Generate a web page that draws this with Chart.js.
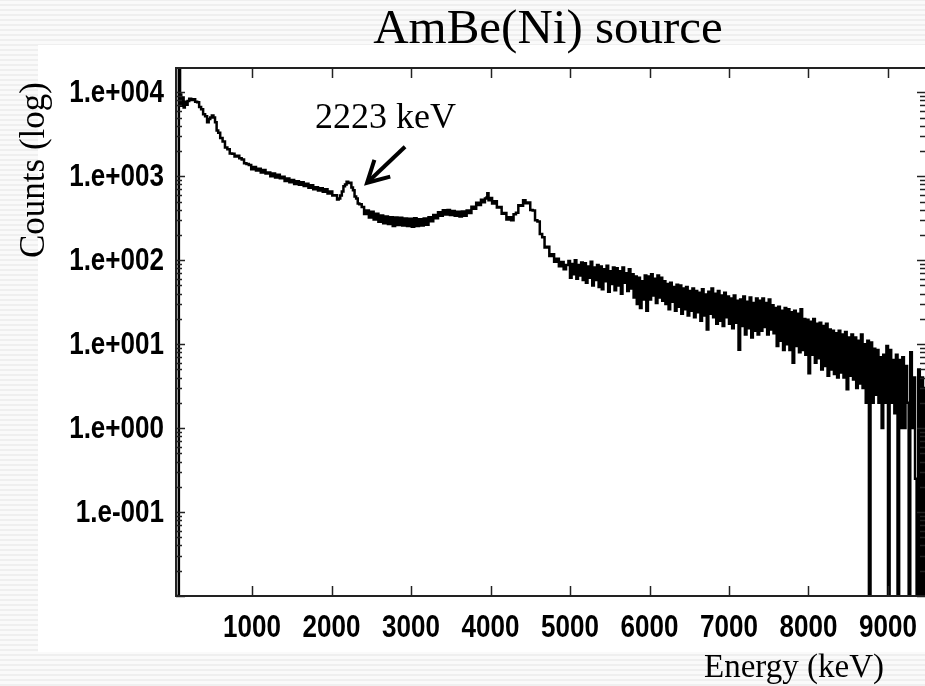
<!DOCTYPE html>
<html>
<head>
<meta charset="utf-8">
<script src="https://cdn.jsdelivr.net/npm/chart.js@4.4.1/dist/chart.umd.min.js"></script>
<style>
    html, body {
        margin: 0;
        padding: 0;
        width: 925px;
        height: 686px;
        overflow: hidden;
        background: repeating-linear-gradient(0deg, #efefef 0px, #efefef 2px, #fafafa 2px, #fafafa 5px);
    }
    #panel { position: absolute; left: 38px; top: 45px; width: 900px; height: 607px; background: #fff; }
    #wrap { position: absolute; left: 0; top: 0; width: 960px; height: 686px; }
</style>
</head>
<body>
<div id="panel"></div>
<div id="wrap"><canvas id="myChart" width="960" height="686"></canvas></div>
<script>
// spectrum, low energy part (keV / counts)
const lowEnergy = [44, 70, 80, 95, 110, 125, 140, 155, 170, 190, 210, 235, 260, 285, 310, 335, 360, 385, 410, 435,
    455, 475, 495, 515, 535, 555, 575, 600, 630, 660, 690, 720, 750, 780, 810, 840, 870, 900, 930, 960,
    990, 1020, 1050, 1080, 1110, 1140, 1170, 1200, 1230, 1260, 1290, 1320, 1350, 1380, 1410, 1440, 1470, 1500, 1530, 1560,
    1590, 1620, 1650, 1680, 1710, 1740, 1770, 1800, 1830, 1860, 1890, 1920, 1950, 1980, 2010, 2040, 2070, 2090, 2110, 2130,
    2150, 2170, 2190, 2210, 2230, 2250, 2270, 2290, 2310, 2330, 2350, 2380, 2410, 2440, 2470, 2500, 2530, 2560, 2590, 2620,
    2650, 2680, 2710, 2740, 2770, 2800, 2830, 2860, 2890, 2920, 2950, 2980, 3010, 3040, 3070, 3100, 3130, 3160, 3190, 3220,
    3250, 3280, 3310, 3340, 3370, 3400, 3430, 3460, 3490, 3520, 3550, 3580, 3610, 3640, 3670, 3700, 3730, 3760, 3790, 3820,
    3850, 3880, 3910, 3930, 3950, 3960, 3975, 3990, 4020, 4050, 4080, 4110, 4140, 4170, 4200, 4230, 4260, 4290, 4320, 4350,
    4380, 4410, 4440, 4470, 4500, 4530, 4560, 4590, 4620, 4650, 4680, 4710, 4740, 4770, 4800, 4830, 4860, 4890, 4920, 4950];
const lowCounts = [0, 0, 30000, 9400, 6900, 8700, 6600, 7700, 7100, 7900, 8400, 8100, 8300, 7700, 7600, 6700, 6300, 5500, 5200, 4400,
    4800, 5000, 5300, 5000, 4400, 3500, 3300, 2850, 2600, 2200, 2100, 1870, 1850, 1720, 1760, 1640, 1580, 1430, 1400, 1360,
    1210, 1290, 1170, 1230, 1110, 1190, 1080, 1110, 1000, 1080, 970, 1040, 950, 990, 880, 940, 850, 905, 810, 870,
    795, 850, 765, 815, 730, 780, 700, 740, 675, 720, 655, 700, 625, 660, 590, 595, 530, 545, 590, 660,
    760, 800, 860, 830, 835, 735, 680, 575, 545, 475, 465, 430, 355, 392, 322, 378, 305, 358, 288, 342,
    275, 332, 270, 326, 255, 322, 262, 320, 260, 314, 255, 312, 250, 316, 255, 308, 260, 314, 265, 325,
    292, 345, 316, 372, 338, 395, 350, 398, 346, 385, 338, 378, 332, 380, 338, 392, 365, 435, 410, 485,
    455, 525, 490, 545, 560, 630, 520, 550, 475, 505, 425, 432, 358, 366, 306, 326, 300, 352, 368, 452,
    445, 520, 478, 488, 398, 390, 300, 290, 205, 188, 142, 145, 112, 118, 96, 104, 85, 95, 78, 88];

// spectrum, noisy high energy tail
const tailEnergy = [4980, 5000, 5020, 5040, 5060, 5080, 5100, 5120, 5140, 5160, 5180, 5200, 5220, 5240, 5260, 5280, 5300, 5320, 5340, 5360,
    5380, 5400, 5420, 5440, 5460, 5480, 5500, 5520, 5540, 5560, 5580, 5600, 5620, 5640, 5660, 5680, 5700, 5720, 5740, 5760,
    5780, 5800, 5820, 5840, 5860, 5880, 5900, 5920, 5940, 5960, 5980, 6000, 6020, 6040, 6060, 6080, 6100, 6120, 6140, 6160,
    6180, 6200, 6220, 6240, 6260, 6280, 6300, 6320, 6340, 6360, 6380, 6400, 6420, 6440, 6460, 6480, 6500, 6520, 6540, 6560,
    6580, 6600, 6620, 6640, 6660, 6680, 6700, 6720, 6740, 6760, 6780, 6800, 6820, 6840, 6860, 6880, 6900, 6920, 6940, 6960,
    6980, 7000, 7020, 7040, 7060, 7080, 7100, 7120, 7140, 7160, 7180, 7200, 7220, 7240, 7260, 7280, 7300, 7320, 7340, 7360,
    7380, 7400, 7420, 7440, 7460, 7480, 7500, 7520, 7540, 7560, 7580, 7600, 7620, 7640, 7660, 7680, 7700, 7720, 7740, 7760,
    7780, 7800, 7820, 7840, 7860, 7880, 7900, 7920, 7940, 7960, 7980, 8000, 8020, 8040, 8060, 8080, 8100, 8120, 8140, 8160,
    8180, 8200, 8220, 8240, 8260, 8280, 8300, 8320, 8340, 8360, 8380, 8400, 8420, 8440, 8460, 8480, 8500, 8520, 8540, 8560,
    8580, 8600, 8620, 8640, 8660, 8680, 8700, 8720, 8740, 8760, 8780, 8800, 8820, 8840, 8860, 8880, 8900, 8920, 8940, 8960,
    8980, 9000, 9020, 9040, 9060, 9080, 9100, 9120, 9140, 9160, 9180, 9200, 9220, 9240, 9260, 9280, 9300, 9320, 9340, 9360,
    9380, 9400, 9420, 9440, 9460, 9480];
const tailCounts = [98, 62, 90, 68, 100, 60, 88, 66, 94, 58,
    92, 54, 84, 62, 96, 50, 82, 58, 88, 48,
    84, 45, 78, 56, 86, 42, 74, 52, 82, 44,
    80, 50, 74, 40, 82, 54, 70, 43, 78, 46,
    68, 36, 64, 30, 62, 27, 56, 34, 66, 25,
    64, 34, 68, 38, 60, 31, 66, 36, 62, 33,
    56, 30, 52, 26, 54, 32, 48, 25, 51, 28,
    50, 23, 46, 26, 48, 22, 43, 25, 46, 21,
    43, 24, 41, 19, 45, 22, 39, 15, 42, 23,
    46, 21, 40, 17.5, 43, 19, 38, 16.5, 41, 21,
    37, 17.5, 35, 15.5, 38, 18, 33, 8.6, 34, 16.5,
    37, 13, 32, 15.5, 36, 12, 31, 14.5, 35, 13,
    33, 14.5, 35, 16, 31, 13, 34, 15, 29, 13.5,
    27, 9.5, 28, 11, 25, 8.5, 27, 10, 26, 8.5,
    24, 6, 25, 9.5, 23, 8, 26, 8.5, 20, 7.5,
    19.5, 4.5, 18.5, 7.5, 20, 6, 17.5, 6.8, 18, 5,
    16.5, 5.5, 17.5, 4.2, 15, 5, 14.5, 4.4, 13.5, 4,
    14.5, 4.6, 13, 4, 14, 2.9, 12, 4.2, 13, 3.8,
    12, 3, 11, 3.4, 13, 3, 10, 2, 11, 0,
    10.5, 2, 8.8, 2.5, 8.5, 2, 7, 1, 7.5, 2,
    9.5, 0, 8.5, 2, 6.5, 1.5, 7.5, 0, 6.5, 1,
    7, 1, 5.5, 2, 0, 8, 1, 4, 0.25, 0,
    5, 0, 4, 0, 3, 0];

const xTickValues = [1000, 2000, 3000, 4000, 5000, 6000, 7000, 8000, 9000];
const yTickValues = [0.1, 1, 10, 100, 1000, 10000];
const yTickLabels = ['1.e-001', '1.e+000', '1.e+001', '1.e+002', '1.e+003', '1.e+004'];

const yMin = 0.01;
const yMax = 19500;

// zero counts sit on the floor of the log axis
const allEnergy = lowEnergy.concat(tailEnergy);
const allCounts = lowCounts.concat(tailCounts);
const spectrum = allEnergy.map((e, i) => ({ x: e, y: allCounts[i] > 0 ? allCounts[i] : yMin }));

const tickFont = "bold 31px 'Liberation Sans', Arial, sans-serif";
const serif = "'Liberation Serif', 'DejaVu Serif', serif";

let ctx = document.getElementById('myChart').getContext('2d');
let myChart;

const framePlugin = {
    id: 'frame',
    afterDatasetsDraw(chart) {
        const c = chart.ctx;
        const a = chart.chartArea;
        const xs = chart.scales.x;
        const ys = chart.scales.y;
        const line = (x1, y1, x2, y2) => { c.beginPath(); c.moveTo(x1, y1); c.lineTo(x2, y2); c.stroke(); };
        c.save();
        c.strokeStyle = '#222';
        c.lineWidth = 2;
        c.strokeRect(a.left, a.top, a.right - a.left, a.bottom - a.top);
        c.lineWidth = 1.5;
        xTickValues.forEach(v => {
            const px = Math.round(xs.getPixelForValue(v)) + 0.5;
            line(px, a.bottom, px, a.bottom - 10);
            line(px, a.top, px, a.top + 10);
        });
        for (let e = -2; e <= 4; e++) {
            for (let m = 1; m <= 9; m++) {
                const v = m * Math.pow(10, e);
                if (v < ys.min || v > ys.max) continue;
                const py = Math.round(ys.getPixelForValue(v)) + 0.5;
                const len = m === 1 ? 9 : 6;
                line(a.left, py, a.left + len, py);
                line(a.right, py, a.right - len, py);
            }
        }

        // tick labels, narrow bold face
        c.fillStyle = '#000';
        c.font = tickFont;
        c.textAlign = 'center';
        c.textBaseline = 'alphabetic';
        xTickValues.forEach(v => {
            c.save();
            c.translate(xs.getPixelForValue(v), a.bottom + 41);
            c.scale(0.84, 1);
            c.fillText(String(v), 0, 0);
            c.restore();
        });
        c.textAlign = 'right';
        c.textBaseline = 'middle';
        yTickValues.forEach((v, i) => {
            c.save();
            c.translate(a.left - 12, ys.getPixelForValue(v) + 1);
            c.scale(0.84, 1);
            c.fillText(yTickLabels[i], 0, 0);
            c.restore();
        });
        c.restore();
    },
    afterDraw(chart) {
        const c = chart.ctx;
        const xs = chart.scales.x;
        const ys = chart.scales.y;
        c.save();
        c.fillStyle = '#000';
        c.textBaseline = 'alphabetic';

        c.font = '49px ' + serif;
        c.textAlign = 'center';
        c.fillText('AmBe(Ni) source', 548, 43);

        c.font = '33px ' + serif;
        c.fillText('Energy (keV)', 794, 677);

        c.save();
        c.translate(44, 170);
        c.rotate(-Math.PI / 2);
        c.font = '35px ' + serif;
        c.fillText('Counts (log)', 0, 0);
        c.restore();

        // annotation for the 2223 keV capture line
        c.font = '36px ' + serif;
        c.textAlign = 'left';
        c.fillText('2223 keV', xs.getPixelForValue(1792), ys.getPixelForValue(3785));

        const tx = xs.getPixelForValue(2447), ty = ys.getPixelForValue(837);
        const sx = xs.getPixelForValue(2925), sy = ys.getPixelForValue(2250);
        const ang = Math.atan2(sy - ty, sx - tx);
        c.strokeStyle = '#000';
        c.lineWidth = 4;
        c.lineCap = 'butt';
        c.lineJoin = 'miter';
        c.beginPath();
        c.moveTo(sx, sy);
        c.lineTo(tx + 3 * Math.cos(ang), ty + 3 * Math.sin(ang));
        c.stroke();
        c.beginPath();
        c.moveTo(tx + 24 * Math.cos(ang + 0.5), ty + 24 * Math.sin(ang + 0.5));
        c.lineTo(tx, ty);
        c.lineTo(tx + 24 * Math.cos(ang - 0.5), ty + 24 * Math.sin(ang - 0.5));
        c.stroke();
        c.restore();
    }
};

myChart = new Chart(ctx, {
    type: 'line',
    data: {
        datasets: [{
            data: spectrum,
            borderColor: '#000',
            borderWidth: 2.5,
            pointRadius: 0,
            stepped: true,
            fill: false
        }]
    },
    options: {
        responsive: false,
        animation: false,
        layout: { padding: { top: 68, right: 34, left: 0, bottom: 0 } },
        plugins: {
            legend: { display: false },
            tooltip: { enabled: false },
            title: { display: false }
        },
        scales: {
            x: {
                type: 'linear',
                min: 44,
                max: 9478,
                grid: { display: false, drawTicks: false },
                border: { display: false },
                afterBuildTicks: (s) => { s.ticks = xTickValues.map(v => ({ value: v })); },
                afterFit: (s) => { s.height = 90; },
                ticks: { display: false }
            },
            y: {
                type: 'logarithmic',
                min: yMin,
                max: yMax,
                grid: { display: false, drawTicks: false },
                border: { display: false },
                afterBuildTicks: (s) => { s.ticks = yTickValues.map(v => ({ value: v })); },
                afterFit: (s) => { s.width = 176; },
                ticks: { display: false }
            }
        }
    },
    plugins: [framePlugin]
});
</script>
</body>
</html>
